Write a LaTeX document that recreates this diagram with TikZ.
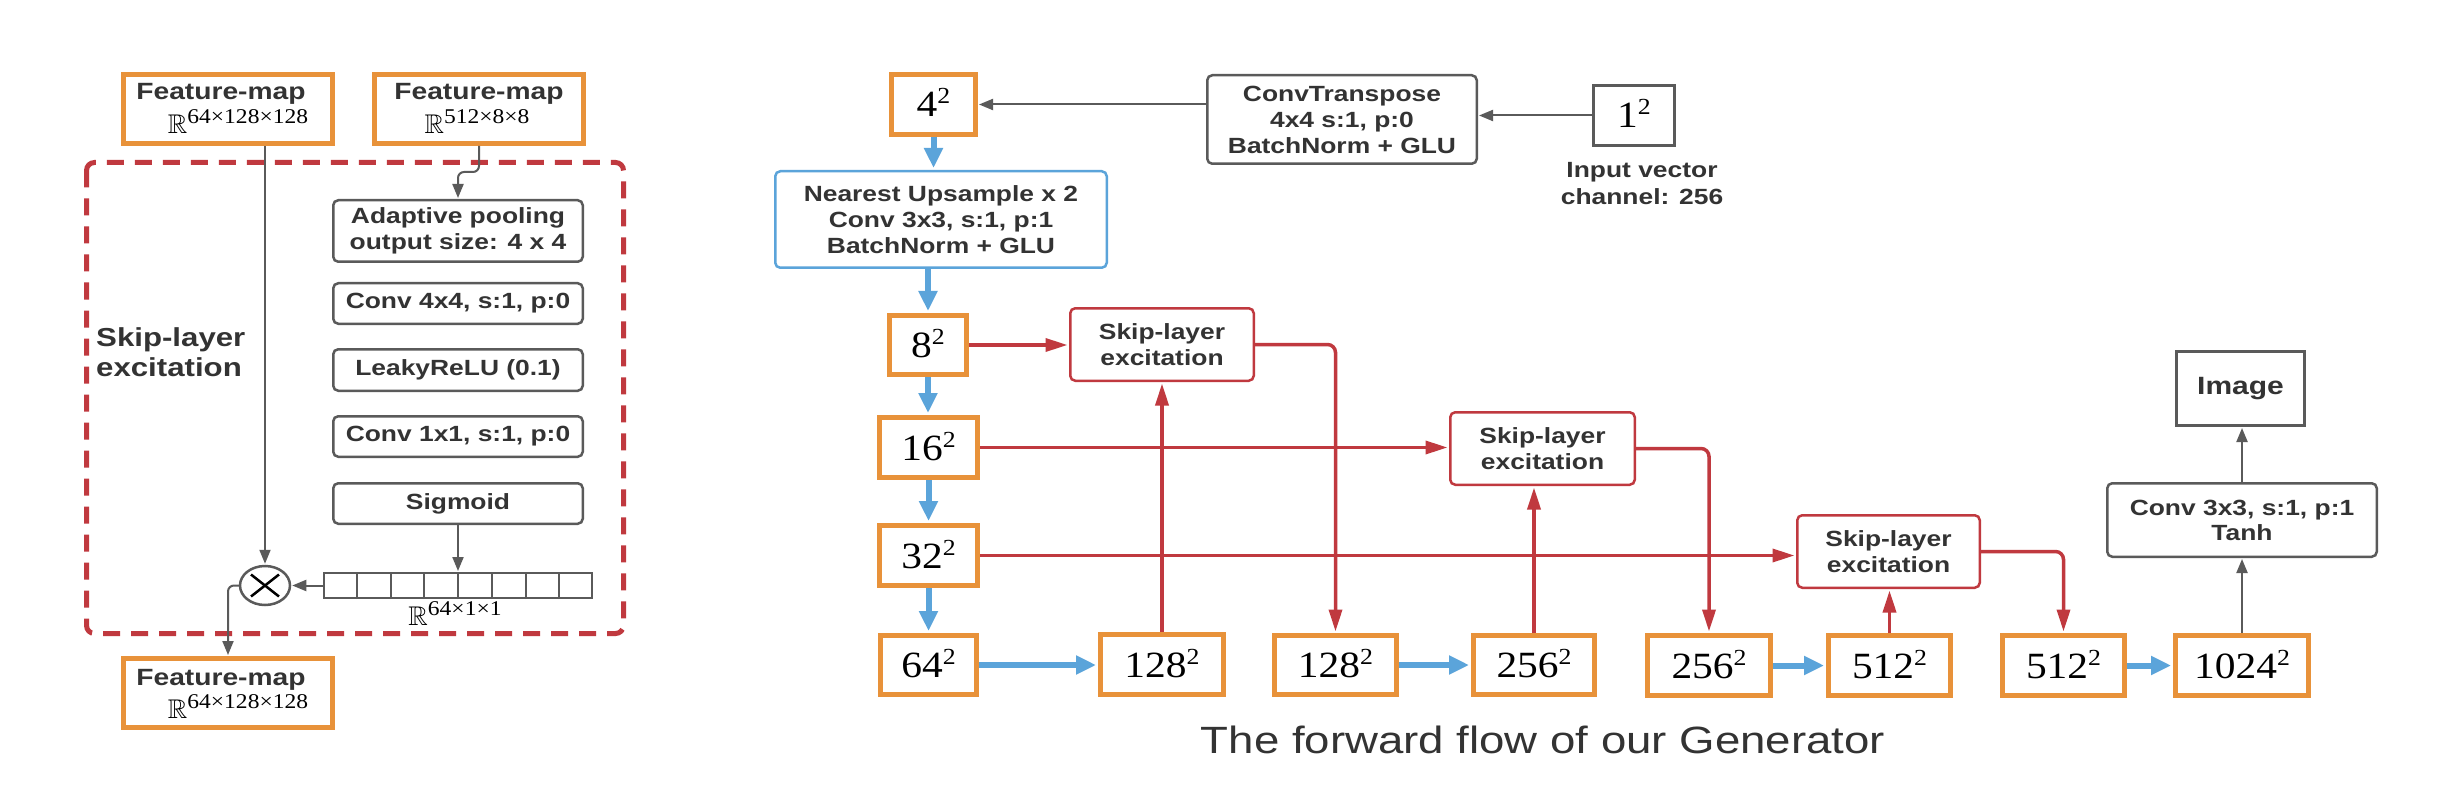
\documentclass[tikz,border=0pt]{standalone}
\usepackage{fontspec}
\usepackage{amssymb}
\usetikzlibrary{arrows.meta,calc,shapes.geometric}
\newfontfamily\lab[FakeStretch=1.2]{Liberation Sans}
\newfontfamily\numf[FakeStretch=1.12]{Liberation Serif}
\definecolor{org}{HTML}{E8923A}
\definecolor{sred}{HTML}{C0393F}
\definecolor{sblue}{HTML}{5BA4DA}
\definecolor{dg}{HTML}{5A5A5A}
\definecolor{txt}{HTML}{333333}
\newcommand\pw[1]{{\numf\fontsize{37}{37}\selectfont #1\raisebox{13pt}{\fontsize{23}{23}\selectfont 2}}}
\newcommand\RR[1]{{\fontsize{27}{27}\selectfont$\mathbb{R}$}\raisebox{10pt}{\numf\fontsize{21}{21}\selectfont #1}}
\tikzset{
 orangebox/.style={draw=org, line width=5pt, inner sep=0pt, text=black, text height=25pt, text depth=0pt},
 gbox/.style={draw=dg, line width=2.5pt, rounded corners=5pt, inner sep=0pt, text=txt, font=\lab\bfseries\fontsize{22}{26}\selectfont, align=center},
 sqbox/.style={draw=dg, line width=3pt, inner sep=0pt},
 rbox/.style={gbox, draw=sred},
 bbox/.style={gbox, draw=sblue},
 fmtxt/.style={font=\lab\bfseries\fontsize{23.5}{28}\selectfont, text=txt, anchor=base, inner sep=0pt},
 garrow/.style={draw=dg, line width=2pt, shorten >=1pt, -{Triangle[length=14pt,width=11pt]}},
 rarrow/.style={draw=sred, line width=3.5pt, shorten >=1.5pt, -{Triangle[length=22pt,width=13pt]}},
 barrow/.style={draw=sblue, line width=6pt, shorten >=2pt, -{Triangle[length=20pt,width=18pt]}}
}
\begin{document}
\begin{tikzpicture}[x=1pt,y=-1pt]
\fill[white] (0,0) rectangle (2462,810);
\useasboundingbox (0,0) rectangle (2462,810);

% ---------- left: skip-layer excitation ----------
\draw[sred, line width=5pt, dash pattern=on 17pt off 11pt, rounded corners=8pt] (86.5,162.5) rectangle (623.5,633.5);

\node[orangebox, minimum width=209pt, minimum height=69pt] (fm1) at (228,109) {};
\node[fmtxt] (fm1a) at (221,100) {Feature-map};
\node[anchor=base, inner sep=0pt] (fm1b) at (238,134) {\RR{64×128×128}};

\node[orangebox, minimum width=209pt, minimum height=69pt] (fm2) at (479,109) {};
\node[fmtxt] (fm2a) at (479,100) {Feature-map};
\node[anchor=base, inner sep=0pt] (fm2b) at (477,134) {\RR{512×8×8}};

\node[orangebox, minimum width=209pt, minimum height=69pt] (fm3) at (228,693) {};
\node[fmtxt] (fm3a) at (221,685) {Feature-map};
\node[anchor=base, inner sep=0pt] (fm3b) at (238,718) {\RR{64×128×128}};

\node[gbox, minimum width=249.5pt, minimum height=61.5pt] (pool) at (458,231) {Adaptive pooling\\output size: 4 x 4};
\node[gbox, minimum width=249.5pt, minimum height=40.5pt] (conv4) at (458,303.5) {Conv 4x4, s:1, p:0};
\node[gbox, minimum width=249.5pt, minimum height=41.5pt] (leaky) at (458,370) {LeakyReLU (0.1)};
\node[gbox, minimum width=249.5pt, minimum height=40.5pt] (conv1) at (458,436.5) {Conv 1x1, s:1, p:0};
\node[gbox, minimum width=249.5pt, minimum height=40.5pt] (sigm) at (458,503.5) {Sigmoid};

\node[draw=dg, line width=2pt, minimum width=268pt, minimum height=25pt, inner sep=0pt] (vec) at (458,585.5) {};
\foreach \i in {1,...,7}
  \draw[dg, line width=2pt] ($(vec.south west)!\i/8!(vec.south east)$) -- ($(vec.north west)!\i/8!(vec.north east)$);
\node[anchor=base, inner sep=0pt] (vecl) at (455,625) {\RR{64×1×1}};

\node[draw=dg, line width=2.5pt, ellipse, minimum width=50pt, minimum height=39pt, inner sep=0pt] (ot) at (265,585.5) {};
\draw[black, line width=2.5pt] ($(ot.center)+(-14,-11)$) -- ($(ot.center)+(14,11)$);
\draw[black, line width=2.5pt] ($(ot.center)+(-14,11)$) -- ($(ot.center)+(14,-11)$);

\node[font=\lab\bfseries\fontsize{26}{30}\selectfont, text=txt, align=left, anchor=west, inner sep=0pt] (sle) at (96,352) {Skip-layer\\excitation};

\coordinate (b1) at (458,172);
\draw[garrow, rounded corners=6pt] (fm2.south) |- (b1) -- (pool.north);
\draw[garrow] (ot.north |- fm1.south) -- (ot.north);
\draw[garrow] (sigm.south) -- (vec.north);
\draw[garrow] (vec.west) -- (ot.east);
\draw[garrow, rounded corners=6pt] (ot.west) -| (fm3.north);

% ---------- right: generator ----------
\node[orangebox, minimum width=84pt, minimum height=60pt] (n4) at (933.5,104.5) {\pw{4}};
\node[gbox, minimum width=269.5pt, minimum height=88.5pt] (ct) at (1342,119.5) {ConvTranspose\\4x4 s:1, p:0\\BatchNorm + GLU};
\node[sqbox, minimum width=81pt, minimum height=60pt, text height=25pt, text depth=0pt] (n1) at (1634,115.5) {\pw{1}};
\node[font=\lab\bfseries\fontsize{22}{27}\selectfont, text=txt, align=center, inner sep=0pt] (iv) at (1642,184) {Input vector\\channel: 256};
\node[bbox, minimum width=331.5pt, minimum height=96.5pt] (up) at (941,219.5) {Nearest Upsample x 2\\Conv 3x3, s:1, p:1\\BatchNorm + GLU};

\node[orangebox, minimum width=77pt, minimum height=59pt] (n8) at (928,345) {\pw{8}};
\node[orangebox, minimum width=98pt, minimum height=60pt] (n16) at (928.5,447.5) {\pw{16}};
\node[orangebox, minimum width=98pt, minimum height=60pt] (n32) at (928.5,555.5) {\pw{32}};
\node[orangebox, minimum width=96pt, minimum height=59pt] (n64) at (928.5,665) {\pw{64}};
\node[orangebox, minimum width=123pt, minimum height=60pt] (n128a) at (1162,664.5) {\pw{128}};
\node[orangebox, minimum width=122pt, minimum height=59pt] (n128b) at (1335.5,665) {\pw{128}};
\node[orangebox, minimum width=121pt, minimum height=59pt] (n256a) at (1534,665) {\pw{256}};
\node[orangebox, minimum width=123pt, minimum height=60pt] (n256b) at (1709,665.5) {\pw{256}};
\node[orangebox, minimum width=122pt, minimum height=60pt] (n512a) at (1889.5,665.5) {\pw{512}};
\node[orangebox, minimum width=122pt, minimum height=60pt] (n512b) at (2063.5,665.5) {\pw{512}};
\node[orangebox, minimum width=133pt, minimum height=60pt] (n1024) at (2242,665.5) {\pw{1024}};

\node[rbox, minimum width=183.5pt, minimum height=72.5pt] (sle1) at (1162,344.5) {Skip-layer\\excitation};
\node[rbox, minimum width=184.5pt, minimum height=72.5pt] (sle2) at (1542.5,448.5) {Skip-layer\\excitation};
\node[rbox, minimum width=182.5pt, minimum height=72.5pt] (sle3) at (1888.5,551.5) {Skip-layer\\excitation};

\node[gbox, minimum width=269.5pt, minimum height=73.5pt, font=\lab\bfseries\fontsize{22}{25}\selectfont] (convt) at (2242,520) {Conv 3x3, s:1, p:1\\Tanh};
\node[sqbox, minimum width=128pt, minimum height=74pt, text=txt, font=\lab\bfseries\fontsize{25}{28}\selectfont] (img) at (2240.5,388.5) {Image};

\node[font=\lab\fontsize{38}{42}\selectfont, text=txt, inner sep=0pt] (cap) at (1543,740) {The forward flow of our Generator};

% gray arrows
\draw[garrow] (n1.west) -- (n1.west -| ct.east);
\draw[garrow] (ct.west |- n4.east) -- (n4.east);
\draw[garrow] (n1024.north) -- (n1024.north |- convt.south);
\draw[garrow] (convt.north) -- (convt.north |- img.south);

% blue arrows
\draw[barrow] (n4.south) -- (n4.south |- up.north);
\draw[barrow] (n8.north |- up.south) -- (n8.north);
\draw[barrow] (n8.south) -- (n8.south |- n16.north);
\draw[barrow] (n16.south) -- (n16.south |- n32.north);
\draw[barrow] (n32.south) -- (n32.south |- n64.north);
\draw[barrow] (n64.east) -- (n64.east -| n128a.west);
\draw[barrow] (n128b.east) -- (n128b.east -| n256a.west);
\draw[barrow] (n256b.east) -- (n256b.east -| n512a.west);
\draw[barrow] (n512b.east) -- (n512b.east -| n1024.west);

% red arrows
\draw[rarrow] (n8.east) -- (n8.east -| sle1.west);
\draw[rarrow] (n16.east) -- (n16.east -| sle2.west);
\draw[rarrow] (n32.east) -- (n32.east -| sle3.west);
\draw[rarrow] (n128a.north) -- (n128a.north |- sle1.south);
\draw[rarrow] (n256a.north) -- (n256a.north |- sle2.south);
\draw[rarrow] (n512a.north) -- (n512a.north |- sle3.south);
\draw[rarrow, rounded corners=8pt] (sle1.east) -| (n128b.north);
\draw[rarrow, rounded corners=8pt] (sle2.east) -| (n256b.north);
\draw[rarrow, rounded corners=8pt] (sle3.east) -| (n512b.north);
\end{tikzpicture}
\end{document}
